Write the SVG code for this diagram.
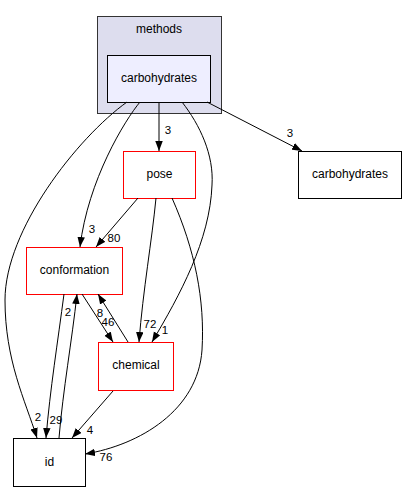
<svg xmlns="http://www.w3.org/2000/svg" width="408" height="492" viewBox="0 0 408 492">
<style>
text{font-family:"Liberation Sans",Arial,sans-serif;font-size:12px;fill:#000}
.n{text-anchor:middle}
.l{text-anchor:middle;font-size:11.5px}
.e{fill:none;stroke:#000;stroke-width:1}
.red{fill:#fff;stroke:#ff0000;stroke-width:1}
.blk{fill:#fff;stroke:#000;stroke-width:1}
</style>
<defs>
<marker id="a" markerUnits="userSpaceOnUse" markerWidth="11" markerHeight="8" refX="10" refY="3.75" orient="auto">
<path d="M0,0 L10,3.75 L0,7.5 z" fill="#000"/>
</marker>
</defs>
<g id="cluster_methods">
<rect x="97.5" y="16.5" width="124" height="97" fill="#ddddee" stroke="#333"/>
<text class="n" x="159" y="33">methods</text>
</g>
<g id="node_carbohydrates_inner">
<rect x="107.5" y="55.5" width="103" height="47" fill="#eeeeff" stroke="#000"/>
<text class="n" x="159" y="82">carbohydrates</text>
</g>
<g id="node_carbohydrates_ext">
<rect x="298.5" y="151.5" width="103" height="47" class="blk"/>
<text class="n" x="350" y="178">carbohydrates</text>
</g>
<g id="node_pose">
<rect x="123.5" y="151.5" width="72" height="47" class="red"/>
<text class="n" x="159.5" y="178">pose</text>
</g>
<g id="node_conformation">
<rect x="26.5" y="247.5" width="96" height="47" class="red"/>
<text class="n" x="74.5" y="274">conformation</text>
</g>
<g id="node_chemical">
<rect x="98.5" y="342.5" width="75" height="48" class="red"/>
<text class="n" x="136" y="369">chemical</text>
</g>
<g id="node_id">
<rect x="13.5" y="438.5" width="72" height="48" class="blk"/>
<text class="n" x="49.5" y="466">id</text>
</g>
<g id="edges">
<path class="e" marker-end="url(#a)" d="M159,102 L159,151"/>
<text class="l" x="168" y="134">3</text>
<path class="e" marker-end="url(#a)" d="M207,102 L302,151"/>
<text class="l" x="290" y="137">3</text>
<path class="e" marker-end="url(#a)" d="M140,102 C125,120 88,180 80,247"/>
<text class="l" x="92" y="233">3</text>
<path class="e" marker-end="url(#a)" d="M127,102 C77,138 5,230 5,300 C5,360 25,400 37,438"/>
<text class="l" x="38" y="421">2</text>
<path class="e" marker-end="url(#a)" d="M182,102 C200,125 214,155 212,185 C210,240 180,295 152,342"/>
<text class="l" x="165" y="334">1</text>
<path class="e" marker-end="url(#a)" d="M138,198 L96,247"/>
<text class="l" x="114" y="242">80</text>
<path class="e" marker-end="url(#a)" d="M156,198 C152,240 143,290 139,342"/>
<text class="l" x="150" y="328">72</text>
<path class="e" marker-end="url(#a)" d="M172,198 C195,250 205,300 202,350 C198,410 140,445 85,454"/>
<text class="l" x="106" y="461">76</text>
<path class="e" marker-end="url(#a)" d="M82,294 L113,342"/>
<text class="l" x="108" y="326">46</text>
<path class="e" marker-end="url(#a)" d="M128,342 L98,294"/>
<text class="l" x="100" y="317">8</text>
<path class="e" marker-end="url(#a)" d="M64,294 C58,340 50,390 46,438"/>
<text class="l" x="56" y="424">29</text>
<path class="e" marker-end="url(#a)" d="M59,438 C63,390 72,340 77,294"/>
<text class="l" x="68" y="316">2</text>
<path class="e" marker-end="url(#a)" d="M113,391 L72,438"/>
<text class="l" x="90" y="434">4</text>
</g>
</svg>
